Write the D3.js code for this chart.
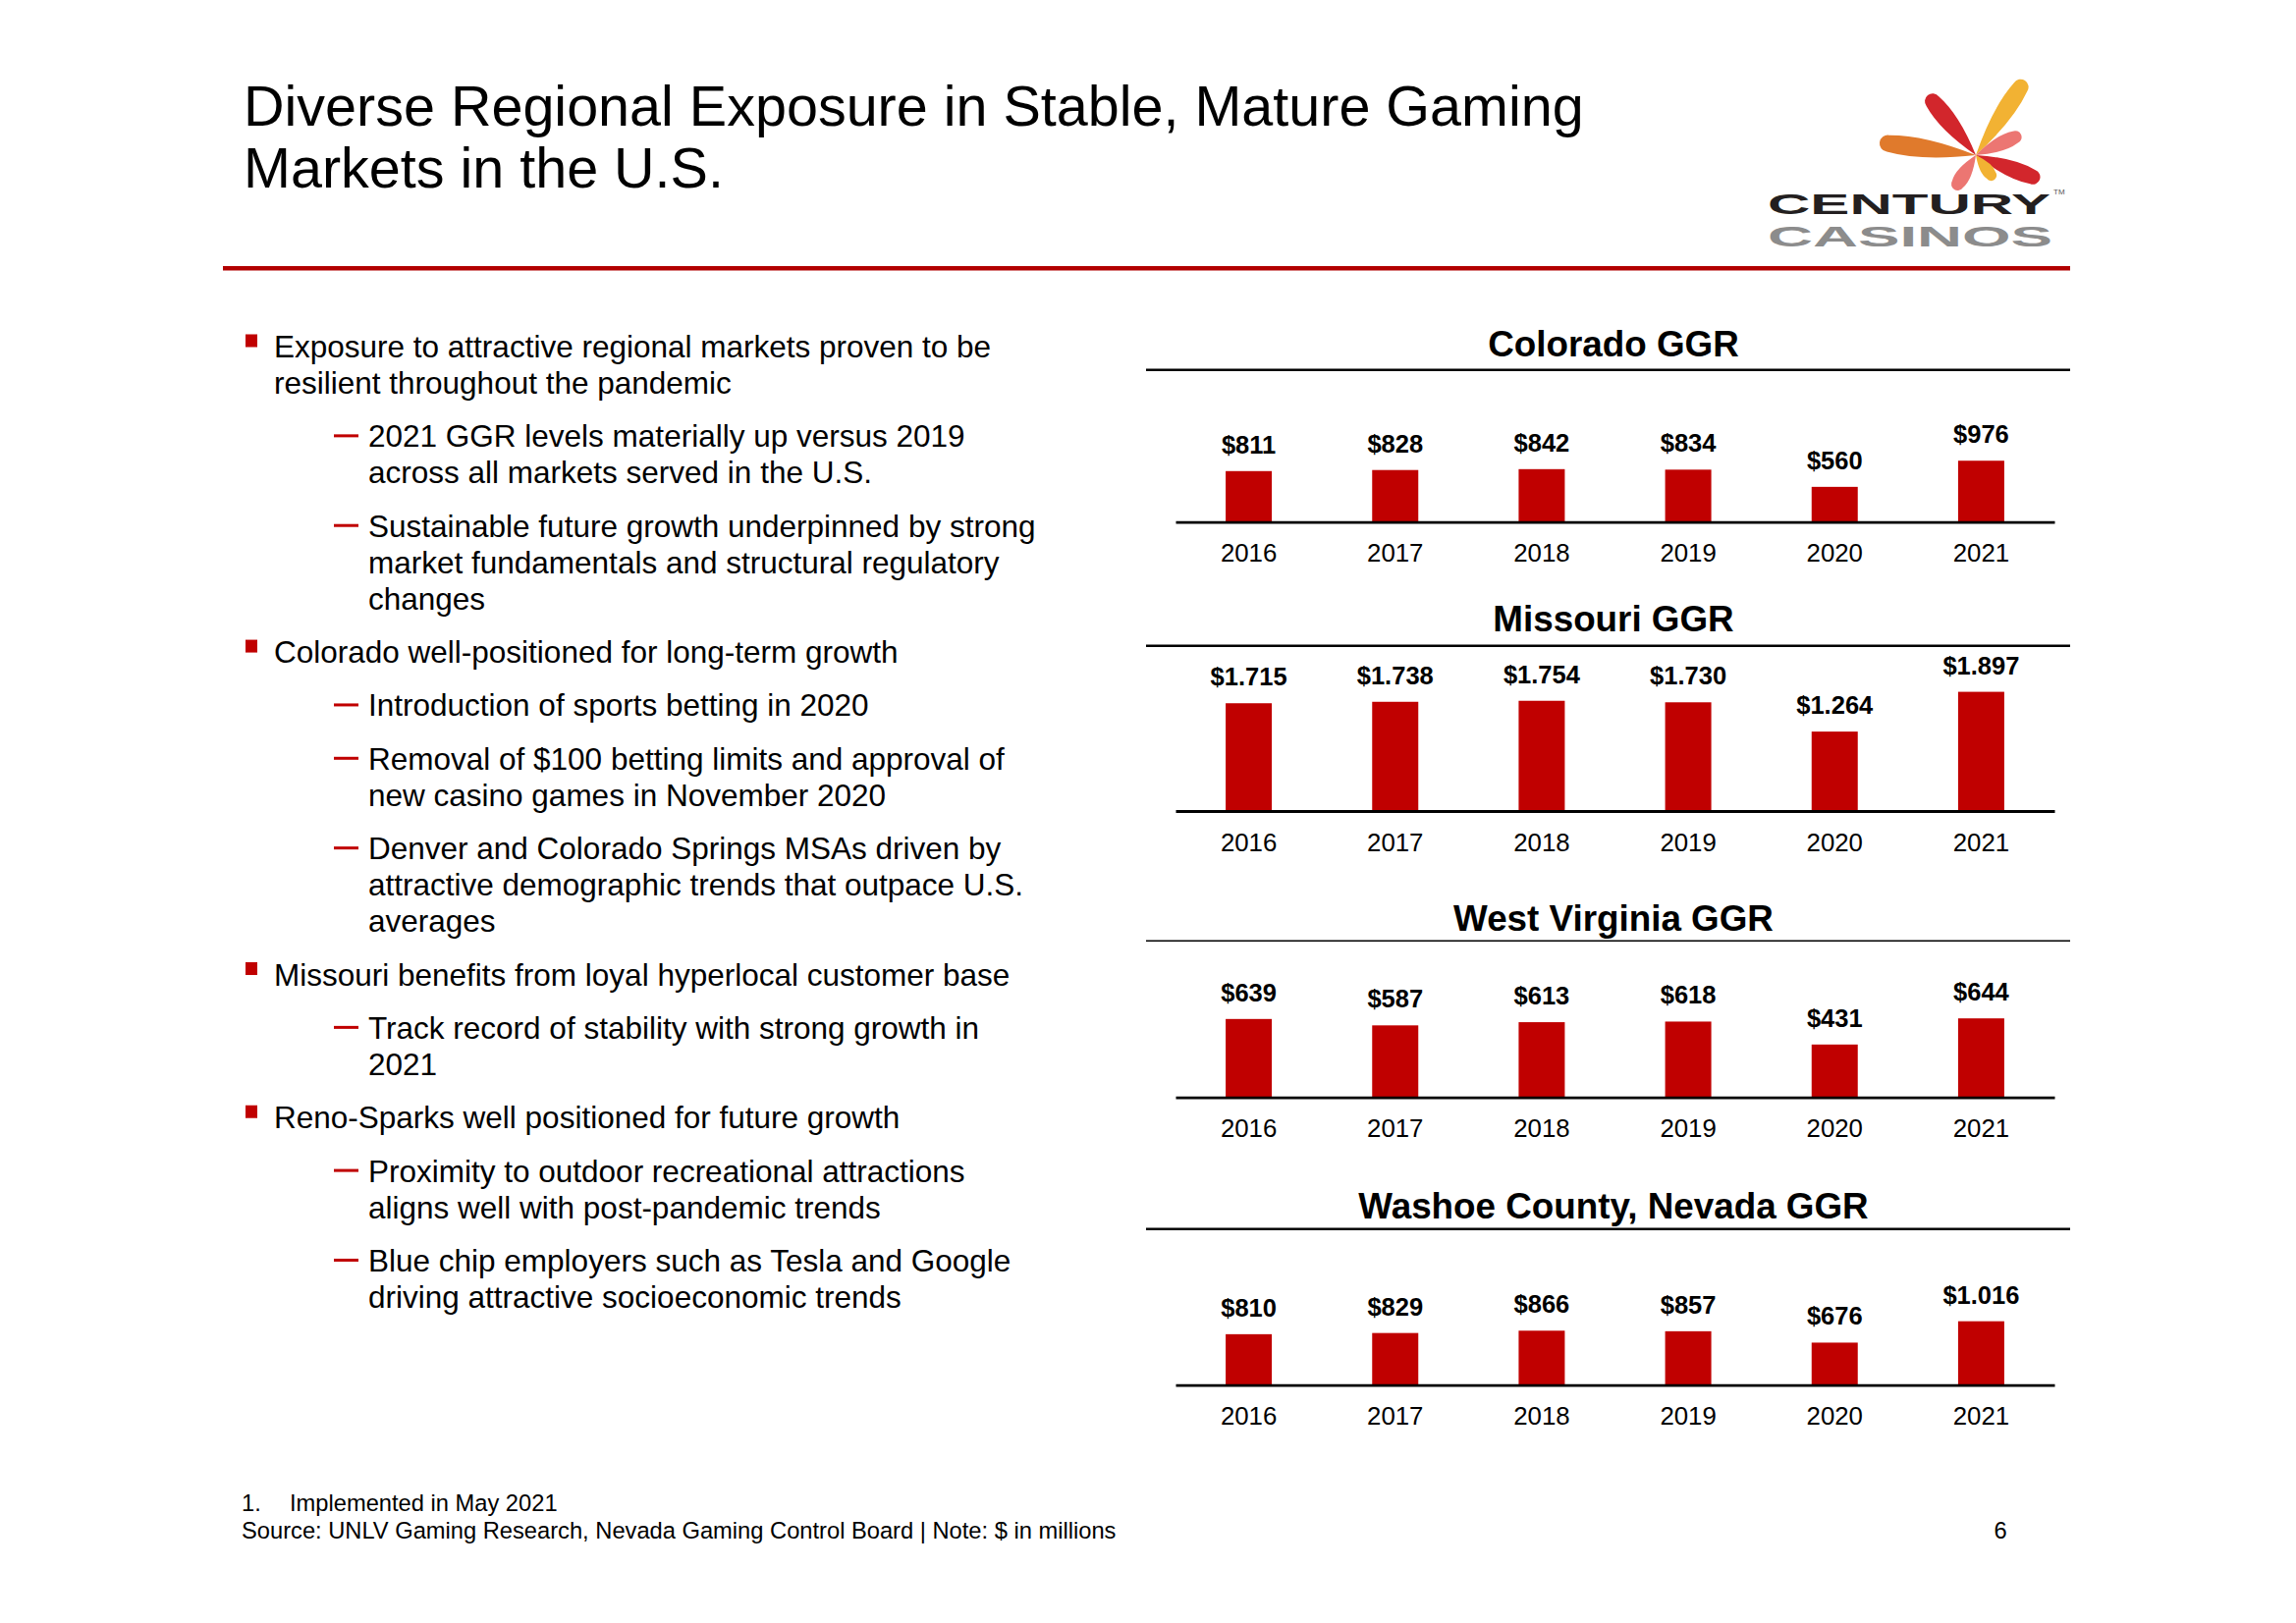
<!DOCTYPE html>
<html><head><meta charset="utf-8">
<script src="https://cdn.jsdelivr.net/npm/d3@7"></script>
<style>
body{margin:0;background:#fff}
svg{display:block}
text{font-family:"Liberation Sans",Arial,Helvetica,sans-serif}
</style>
</head><body>
<svg id="c" width="2338" height="1653"></svg>
<script>
// ---------------- data ----------------
const years = ["2016","2017","2018","2019","2020","2021"];
const coloradoGGR = [811, 828, 842, 834, 560, 976];          // $ millions
const missouriGGR = [1.715, 1.738, 1.754, 1.730, 1.264, 1.897]; // $ billions
const westVirginiaGGR = [639, 587, 613, 618, 431, 644];      // $ millions
const washoeGGR = [810, 829, 866, 857, 676, 1016];           // $ millions
const chartTitles = ["Colorado GGR","Missouri GGR","West Virginia GGR","Washoe County, Nevada GGR"];
const axisMax = [2500, 2.5, 1280, 2500];

const titleLines = ["Diverse Regional Exposure in Stable, Mature Gaming","Markets in the U.S."];
const bullets = [
 {level:0, lines:["Exposure to attractive regional markets proven to be","resilient throughout the pandemic"]},
 {level:1, lines:["2021 GGR levels materially up versus 2019","across all markets served in the U.S."]},
 {level:1, lines:["Sustainable future growth underpinned by strong","market fundamentals and structural regulatory","changes"]},
 {level:0, lines:["Colorado well-positioned for long-term growth"]},
 {level:1, lines:["Introduction of sports betting in 2020"]},
 {level:1, lines:["Removal of $100 betting limits and approval of","new casino games in November 2020"]},
 {level:1, lines:["Denver and Colorado Springs MSAs driven by","attractive demographic trends that outpace U.S.","averages"]},
 {level:0, lines:["Missouri benefits from loyal hyperlocal customer base"]},
 {level:1, lines:["Track record of stability with strong growth in","2021"]},
 {level:0, lines:["Reno-Sparks well positioned for future growth"]},
 {level:1, lines:["Proximity to outdoor recreational attractions","aligns well with post-pandemic trends"]},
 {level:1, lines:["Blue chip employers such as Tesla and Google","driving attractive socioeconomic trends"]}
];
const footnote = "Implemented in May 2021";
const sourceNote = "Source: UNLV Gaming Research, Nevada Gaming Control Board | Note: $ in millions";
const pageNumber = "6";

// ---------------- drawing ----------------
const RED = "#C00000";
const svg = d3.select("#c");
svg.append("rect").attr("width",2338).attr("height",1653).attr("fill","#fff");

// Title
titleLines.forEach((t,i)=> svg.append("text").attr("x",248).attr("y",128+i*63)
  .attr("font-size",57.5).attr("fill","#000").text(t));

// Red rule under title
svg.append("rect").attr("x",227).attr("y",271).attr("width",1881).attr("height",4.5).attr("fill","#B20000");

// Logo
const logo = svg.append("g");
const C = [2012,158];
function petal(tip, w, color){
  const dx = tip[0]-C[0], dy = tip[1]-C[1];
  const L = Math.hypot(dx,dy), ang = Math.atan2(dy,dx)*180/Math.PI;
  const r = w/2;
  const p = `M0,0 Q${L*0.55},${-w*0.8} ${L-r},${-r} A${r},${r} 0 0 1 ${L-r},${r} Q${L*0.55},${w*0.8} 0,0 Z`;
  logo.append("path").attr("d",p).attr("fill",color)
    .attr("transform",`translate(${C[0]},${C[1]}) rotate(${ang})`);
}
petal([1914,145],17,"#E07A2C");
petal([1963,97],16,"#D2262C");
petal([2062,82],16,"#F2B233");
petal([2058,137],13,"#EC7672");
petal([2077,183],15,"#D2262C");
petal([2031,183],11,"#F2B233");
petal([1990,193],13,"#EC7672");
logo.append("text").attr("x",1800).attr("y",218).attr("font-size",30).attr("font-weight","bold")
  .attr("textLength",288).attr("lengthAdjust","spacingAndGlyphs").attr("fill","#231F20")
  .text("CENTURY");
logo.append("text").attr("x",1800).attr("y",251).attr("font-size",30).attr("font-weight","bold")
  .attr("textLength",290).attr("lengthAdjust","spacingAndGlyphs").attr("fill","#8C8C8C")
  .text("CASINOS");
logo.append("text").attr("x",2091).attr("y",198).attr("font-size",8).attr("fill","#555").text("TM");

// Bullets
let yb = 364;
const lineStep = 37, paraStep = 54.36;
bullets.forEach((b,bi)=>{
  if (bi>0) yb += paraStep;
  if (b.level===0){
    svg.append("rect").attr("x",250).attr("y",yb-23.5).attr("width",12).attr("height",13).attr("fill",RED);
  } else {
    svg.append("rect").attr("x",340).attr("y",yb-13).attr("width",25).attr("height",3).attr("fill",RED);
  }
  b.lines.forEach((ln,li)=>{
    if (li>0) yb += lineStep;
    svg.append("text").attr("x", b.level===0 ? 279 : 375).attr("y",yb)
      .attr("font-size",31.5).attr("fill","#000").text(ln);
  });
});

// Footer
svg.append("text").attr("x",246).attr("y",1539).attr("font-size",23.7).text("1.");
svg.append("text").attr("x",295).attr("y",1539).attr("font-size",23.7).text(footnote);
svg.append("text").attr("x",246).attr("y",1567).attr("font-size",23.7).text(sourceNote);
svg.append("text").attr("x",2037).attr("y",1567).attr("font-size",23.7).attr("text-anchor","middle").text(pageNumber);

// Charts
const seriesList = [coloradoGGR, missouriGGR, westVirginiaGGR, washoeGGR];
const panels = [
  {titleY:362.7, headY:376.7, axisY:531.7, headW:2.5},
  {titleY:643.3, headY:657.7, axisY:826,   headW:2.5},
  {titleY:948.3, headY:958.3, axisY:1117.7,headW:1.6},
  {titleY:1240.7,headY:1251.7,axisY:1410.7,headW:2.5}
];
function fmt(v){
  if (v < 10) return "$" + v.toFixed(3);
  if (v >= 1000) return "$" + (v/1000).toFixed(3);
  return "$" + v;
}
const x = d3.scaleBand().domain(years).range([1197,2092]).paddingInner(0.685).paddingOuter(0.3425);

seriesList.forEach((vals,i)=>{
  const p = panels[i];
  const g = svg.append("g");
  g.append("text").attr("x",1643).attr("y",p.titleY).attr("text-anchor","middle")
    .attr("font-size",36.8).attr("font-weight","bold").attr("fill","#000").text(chartTitles[i]);
  g.append("line").attr("x1",1167).attr("x2",2108).attr("y1",p.headY).attr("y2",p.headY)
    .attr("stroke","#000").attr("stroke-width",p.headW);
  const y = d3.scaleLinear().domain([0, axisMax[i]]).range([p.axisY, p.axisY-160]);
  const data = years.map((yr,j)=>({yr, v:vals[j]}));
  g.selectAll("rect.bar").data(data).join("rect").attr("class","bar")
    .attr("x",d=>x(d.yr)).attr("width",x.bandwidth())
    .attr("y",d=>y(d.v)).attr("height",d=>p.axisY-y(d.v)).attr("fill",RED);
  g.selectAll("text.val").data(data).join("text").attr("class","val")
    .attr("x",d=>x(d.yr)+x.bandwidth()/2).attr("y",d=>y(d.v)-18)
    .attr("text-anchor","middle").attr("font-size",25.5).attr("font-weight","bold").attr("fill","#000")
    .text(d=>fmt(d.v));
  const ax = g.append("g").attr("transform",`translate(0,${p.axisY})`)
    .call(d3.axisBottom(x).tickSize(0).tickSizeOuter(0).tickPadding(22.3));
  ax.select(".domain").attr("stroke","#000").attr("stroke-width",2.8);
  ax.selectAll("text").attr("font-size",25.8).attr("fill","#000")
    .style("font-family","'Liberation Sans',Arial,sans-serif");
});
</script>
</body></html>
